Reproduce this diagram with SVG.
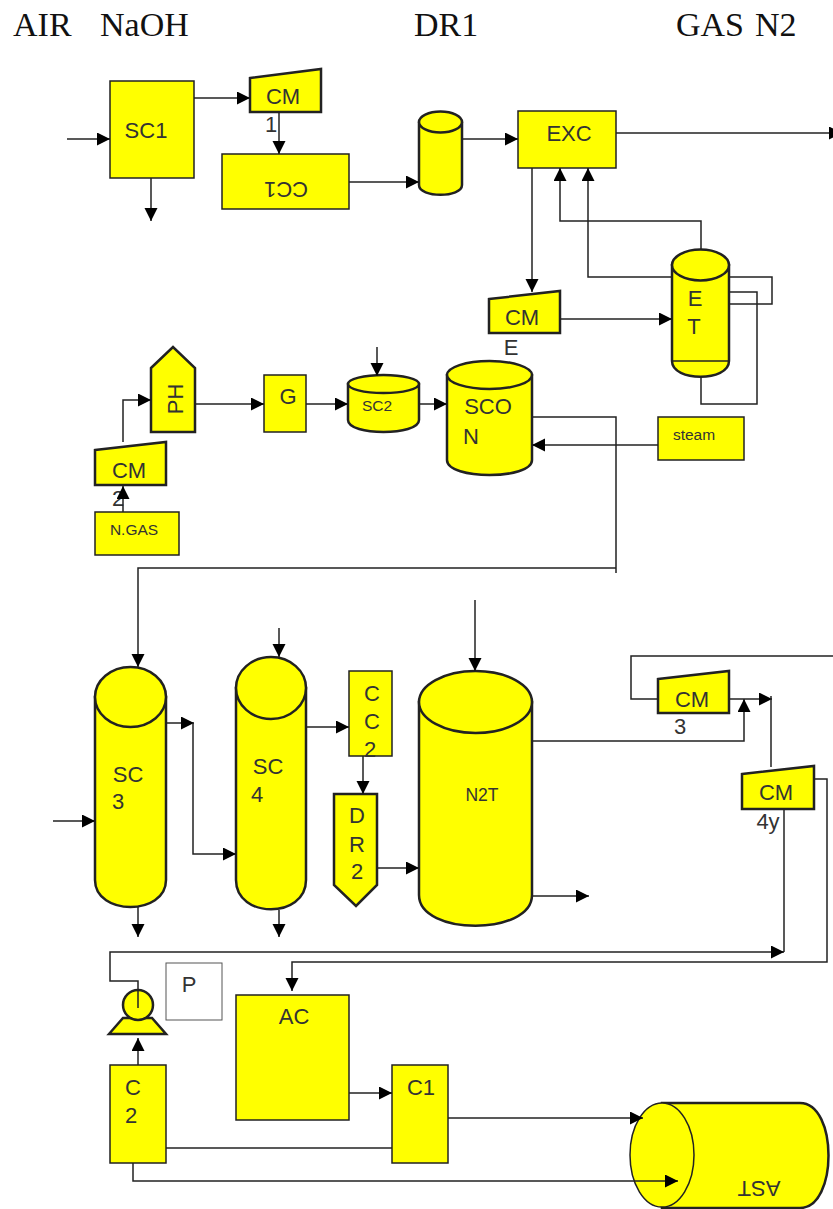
<svg xmlns="http://www.w3.org/2000/svg" width="833" height="1209" viewBox="0 0 833 1209">
<style>
.s{fill:#ffff00;stroke:#222;stroke-width:1.5}
.b{stroke-width:2.5}
.c{fill:none;stroke:#222;stroke-width:1.5}
.a{marker-end:url(#ah)}
text{font-family:"Liberation Sans",Arial,sans-serif;font-size:22px;fill:#333;text-anchor:middle}
.m{font-size:15.500px}
.h{font-family:"Liberation Serif","Times New Roman",serif;font-size:34px;fill:#111;text-anchor:start}
</style>
<defs><marker id="ah" markerUnits="userSpaceOnUse" markerWidth="14" markerHeight="14" refX="13" refY="6.5" orient="auto"><path d="M0 0L13 6.5L0 13Z" fill="#000"/></marker></defs>
<rect width="833" height="1209" fill="#fff"/>
<g id="titles"><text class="h" x="13" y="36">AIR</text><text class="h" x="100" y="36">NaOH</text><text class="h" x="414" y="36">DR1</text><text class="h" x="676" y="36">GAS</text><text class="h" x="755" y="36">N2</text></g>
<g id="sc1"><rect class="s" x="110" y="81" width="84" height="97"/><text x="146" y="138">SC1</text></g>
<g id="cm1"><path class="s b" d="M250 78L321 69V112H250Z"/><text x="283" y="104">CM</text></g>
<g id="label1"><text x="271" y="132">1</text></g>
<g id="cc1"><rect class="s" x="222" y="154" width="127" height="55"/><text transform="rotate(180 286 182)" x="286" y="182">CC1</text></g>
<g id="dr1"><path class="s b" d="M419 123V185C419 198 462 198 462 185V123Z"/><ellipse class="s b" cx="440.500" cy="122" rx="21.500" ry="10.500"/></g>
<g id="exc"><rect class="s" x="518" y="111" width="98" height="57"/><text x="569" y="141">EXC</text></g>
<g id="cme"><path class="s b" d="M489 299L560 291V333H489Z"/><text x="522" y="325">CM</text><text x="511" y="355">E</text></g>
<g id="et"><path class="s b" d="M672 265V361C672 382 729 382 729 361V265Z"/><ellipse class="s b" cx="700.500" cy="265" rx="28.500" ry="15.500"/><path class="c" d="M672 361H729"/><text x="695" y="306">E</text><text x="694" y="334">T</text></g>
<g id="scon"><path class="s b" d="M447 375V460C447 480 532 480 532 460V375Z"/><ellipse class="s b" cx="489.500" cy="375" rx="42.500" ry="14"/><text x="488" y="414">SCO</text><text x="471" y="444">N</text></g>
<g id="steam"><rect class="s" x="658" y="417" width="86" height="43"/><text class="m" x="694" y="440">steam</text></g>
<g id="ph"><path class="s b" d="M151 368L173 347L195 368V432H151Z"/><text transform="rotate(-90 183 399)" x="183" y="399">PH</text></g>
<g id="g"><rect class="s" x="264" y="375" width="42" height="57"/><text x="288" y="404">G</text></g>
<g id="sc2"><path class="s b" d="M348 384V420C348 436 419 436 419 420V384Z"/><ellipse class="s b" cx="383.500" cy="384" rx="35.500" ry="9"/><text class="m" x="377" y="411">SC2</text></g>
<g id="cm2"><path class="s b" d="M95 450L166 442V485H95Z"/><text x="129" y="478">CM</text><text x="118" y="506">2</text></g>
<g id="ngas"><rect class="s" x="95" y="512" width="84" height="43"/><text class="m" x="134" y="535">N.GAS</text></g>
<g id="sc3"><path class="s b" d="M95 697V880C95 916 166 916 166 880V697Z"/><ellipse class="s b" cx="130.500" cy="697" rx="35.500" ry="30"/><text x="128" y="782">SC</text><text x="118" y="809">3</text></g>
<g id="sc4"><path class="s b" d="M236 688V880C236 919 306 919 306 880V688Z"/><ellipse class="s b" cx="271" cy="688" rx="35" ry="31"/><text x="268" y="774">SC</text><text x="257" y="802">4</text></g>
<g id="cc2"><rect class="s" x="349" y="671" width="43" height="85"/><text x="372" y="701">C</text><text x="372" y="729">C</text><text x="370" y="757">2</text></g>
<g id="dr2"><path class="s b" d="M334 794H377V885L356 906L334 885Z"/><text x="357" y="823">D</text><text x="357" y="852">R</text><text x="357" y="879">2</text></g>
<g id="n2t"><path class="s b" d="M419 702V895C419 936 532 936 532 895V702Z"/><ellipse class="s b" cx="475.500" cy="702" rx="56.500" ry="31"/><text x="482" y="801" style="font-size:17.500px">N2T</text></g>
<g id="cm3"><path class="s b" d="M658 679L729 671V713H658Z"/><text x="692" y="707">CM</text><text x="680" y="734">3</text></g>
<g id="cm4"><path class="s b" d="M742 774L814 766V809H742Z"/><text x="776" y="800">CM</text><text x="768" y="829">4y</text></g>
<g id="pump"><path class="s b" d="M109 1034L123 1018H152L166 1034Z"/><circle class="s b" cx="138" cy="1005" r="15"/></g>
<g id="p"><rect x="166" y="963" width="56" height="57" fill="#fff" stroke="#555" stroke-width="1"/><text x="189" y="992">P</text></g>
<g id="ac"><rect class="s" x="236" y="995" width="113" height="125"/><text x="294" y="1024">AC</text></g>
<g id="c1"><rect class="s" x="392" y="1065" width="56" height="98"/><text x="421" y="1095">C1</text></g>
<g id="c2"><rect class="s" x="110" y="1065" width="56" height="98"/><text x="133" y="1095">C</text><text x="131" y="1123">2</text></g>
<g id="ast"><path class="s b" d="M662 1103H800C838 1103 838 1208 800 1208H662Z"/><ellipse class="s" cx="662" cy="1155" rx="32" ry="52"/><text transform="rotate(180 759 1181)" x="759" y="1181">AST</text></g>
<g id="connectors">
<path class="c a" d="M67 139H110"/><path class="c a" d="M194 98H250"/><path class="c a" d="M151 178V221"/><path class="c a" d="M279 112V154"/><path class="c a" d="M349 182H419"/><path class="c a" d="M462 139H518"/><path class="c a" d="M616 133H842"/>
<path class="c a" d="M532 168V292"/><path class="c a" d="M560 319H672"/><path class="c a" d="M701 249V221H560V168"/><path class="c a" d="M672 277H588V168"/>
<path class="c" d="M729 277H772V304H729"/><path class="c" d="M729 292H757V404H701V376"/>
<path class="c a" d="M658 445H532"/>
<path class="c" d="M532 417H616V573"/><path class="c a" d="M616 568H138V667"/>
<path class="c a" d="M123 512V486"/><path class="c a" d="M123 442V400H151"/><path class="c a" d="M195 404H264"/><path class="c a" d="M306 404H348"/><path class="c a" d="M377 347V376"/><path class="c a" d="M419 404H447"/>
<path class="c a" d="M53 821H95"/><path class="c a" d="M166 723H194"/><path class="c a" d="M193 723V854H236"/><path class="c a" d="M138 907V937"/><path class="c a" d="M279 628V657"/><path class="c a" d="M279 910V937"/>
<path class="c a" d="M306 727H349"/><path class="c a" d="M363 756V794"/><path class="c a" d="M377 868H419"/><path class="c a" d="M475 600V671"/><path class="c a" d="M532 896H589"/>
<path class="c a" d="M532 741H744V699"/><path class="c" d="M833 656H631V699H658"/><path class="c a" d="M729 699H772"/><path class="c" d="M771 767V696"/>
<path class="c" d="M784 809V952"/><path class="c a" d="M138 1008V981H110V952H784"/>
<path class="c a" d="M814 779H827V962H292V991"/>
<path class="c a" d="M138 1065V1038"/><path class="c a" d="M349 1093H392"/><path class="c" d="M166 1148H392"/><path class="c a" d="M448 1118H643"/><path class="c a" d="M133 1163V1181H678"/>
</g>
</svg>
